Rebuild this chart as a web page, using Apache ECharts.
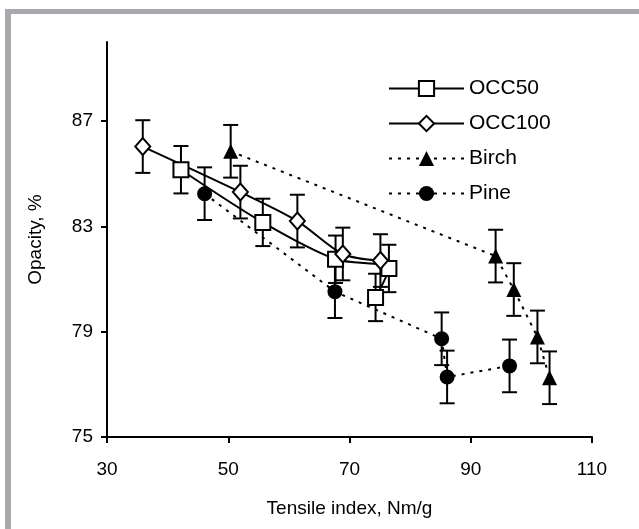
<!DOCTYPE html>
<html>
<head>
<meta charset="utf-8">
<script src="https://cdn.jsdelivr.net/npm/echarts@6/dist/echarts.min.js"></script>
<style>
  html, body { margin: 0; padding: 0; background: #fff; }
  #chart { width: 639px; height: 529px; }
</style>
</head>
<body>
<div id="chart"></div>
<script>
// data (x = tensile index, y = opacity, err = half error bar)
const occ50X = [42.2, 55.7, 67.7, 76.5, 74.3];
const occ50Y = [85.15, 83.15, 81.75, 81.4, 80.3];
const occ50Err = [0.9, 0.9, 0.9, 0.9, 0.9];

const occ100X = [35.9, 52.0, 61.4, 68.9, 75.1];
const occ100Y = [86.03, 84.3, 83.2, 81.95, 81.7];
const occ100Err = [1.0, 1.0, 1.0, 1.0, 1.0];

const birchX = [50.4, 94.1, 97.1, 101.0, 103.0];
const birchY = [85.85, 81.87, 80.6, 78.8, 77.25];
const birchErr = [1.0, 1.0, 1.0, 1.0, 1.0];

const pineX = [46.1, 67.6, 85.2, 86.1, 96.4];
const pineY = [84.24, 80.52, 78.73, 77.28, 77.7];
const pineErr = [1.0, 1.0, 1.0, 1.0, 1.0];

const xTicks = [30, 50, 70, 90, 110];
const yTicks = [75, 79, 83, 87];

const chart = echarts.init(document.getElementById('chart'));

const pts = (xs, ys) => xs.map((x, i) => [x, ys[i]]);
const errPts = (xs, ys, es) => xs.map((x, i) => [x, ys[i] - es[i], ys[i] + es[i]]);

// error bars: vertical stroke with caps
function errorBars(name, data) {
    return {
        type: 'custom',
        name: name + ' err',
        z: 1,
        silent: true,
        data: data,
        renderItem: function (params, api) {
            const lo = api.coord([api.value(0), api.value(1)]);
            const hi = api.coord([api.value(0), api.value(2)]);
            const w = 7.5;
            const st = { stroke: '#000', lineWidth: 2 };
            return {
                type: 'group',
                children: [
                    { type: 'line', shape: { x1: lo[0], y1: lo[1], x2: hi[0], y2: hi[1] }, style: st },
                    { type: 'line', shape: { x1: lo[0] - w, y1: lo[1], x2: lo[0] + w, y2: lo[1] }, style: st },
                    { type: 'line', shape: { x1: hi[0] - w, y1: hi[1], x2: hi[0] + w, y2: hi[1] }, style: st }
                ]
            };
        }
    };
}

const font = 'Liberation Sans, Arial, sans-serif';

const option = {
    backgroundColor: '#fff',
    animation: false,
    graphic: [
        // grey frame on top and left edge
        { type: 'rect', shape: { x: 5, y: 9, width: 634, height: 5 }, style: { fill: '#a7a9ac' } },
        { type: 'rect', shape: { x: 5, y: 9, width: 6, height: 520 }, style: { fill: '#a7a9ac' } }
    ],
    grid: { left: 107, right: 47, top: 42, bottom: 92 },
    legend: {
        orient: 'vertical',
        left: 383,
        top: 73,
        itemWidth: 75,
        itemHeight: 19,
        itemGap: 14,
        textStyle: { fontFamily: font, fontSize: 21, color: '#000' },
        data: ['OCC50', 'OCC100', 'Birch', 'Pine']
    },
    xAxis: {
        type: 'value',
        min: 30,
        max: 110,
        interval: 20,
        name: 'Tensile index, Nm/g',
        nameLocation: 'middle',
        nameGap: 62,
        nameTextStyle: { fontFamily: font, fontSize: 19, color: '#000' },
        splitLine: { show: false },
        axisLine: { lineStyle: { color: '#000', width: 2 } },
        axisTick: { customValues: xTicks, length: 6, lineStyle: { color: '#000', width: 2 } },
        axisLabel: { customValues: xTicks, margin: 23, fontFamily: font, fontSize: 19, color: '#000' }
    },
    yAxis: {
        type: 'value',
        min: 75,
        max: 90,
        interval: 4,
        name: 'Opacity, %',
        nameLocation: 'middle',
        nameGap: 62,
        nameTextStyle: { fontFamily: font, fontSize: 19, color: '#000' },
        splitLine: { show: false },
        axisLine: { lineStyle: { color: '#000', width: 2 } },
        axisTick: { customValues: yTicks, length: 6, lineStyle: { color: '#000', width: 2 } },
        axisLabel: { customValues: yTicks, margin: 14, fontFamily: font, fontSize: 19, color: '#000' }
    },
    series: [
        errorBars('OCC50', errPts(occ50X, occ50Y, occ50Err)),
        errorBars('OCC100', errPts(occ100X, occ100Y, occ100Err)),
        errorBars('Birch', errPts(birchX, birchY, birchErr)),
        errorBars('Pine', errPts(pineX, pineY, pineErr)),
        {
            name: 'OCC50', type: 'line', z: 3, smooth: 0.3,
            data: pts(occ50X, occ50Y),
            symbol: 'rect', symbolSize: 15,
            lineStyle: { color: '#000', width: 2 },
            itemStyle: { color: '#fff', borderColor: '#000', borderWidth: 2 }
        },
        {
            name: 'OCC100', type: 'line', z: 3, smooth: 0.3,
            data: pts(occ100X, occ100Y),
            symbol: 'diamond', symbolSize: [15, 17],
            lineStyle: { color: '#000', width: 2 },
            itemStyle: { color: '#fff', borderColor: '#000', borderWidth: 2 }
        },
        {
            name: 'Birch', type: 'line', z: 3,
            data: pts(birchX, birchY),
            symbol: 'triangle', symbolSize: 15,
            lineStyle: { color: '#000', width: 2, type: [3, 6] },
            itemStyle: { color: '#000' }
        },
        {
            name: 'Pine', type: 'line', z: 3,
            data: pts(pineX, pineY),
            symbol: 'circle', symbolSize: 15,
            lineStyle: { color: '#000', width: 2, type: [3, 6] },
            itemStyle: { color: '#000' }
        }
    ]
};

chart.setOption(option);
</script>
</body>
</html>
